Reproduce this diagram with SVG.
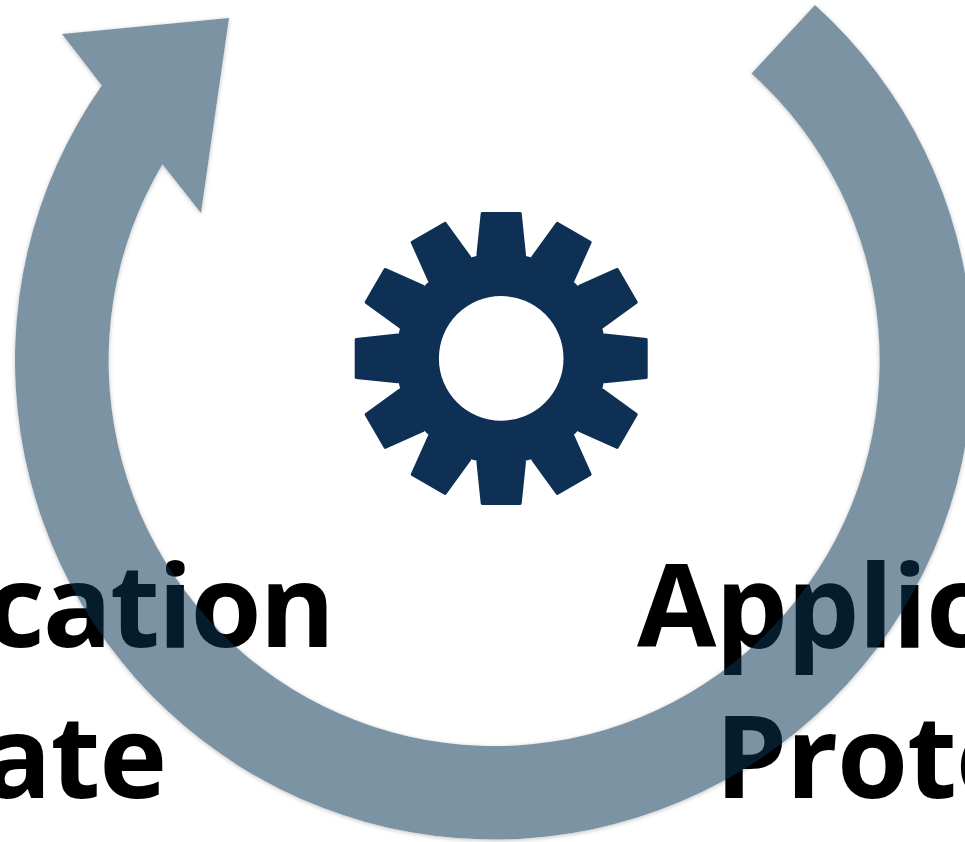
<svg xmlns="http://www.w3.org/2000/svg" width="965" height="842" viewBox="0 0 965 842">
<style>
.label{font-family:"Open Sans","Noto Sans","Liberation Sans",sans-serif;font-weight:700;font-size:115px;letter-spacing:-1.2px;fill:#000}
.gear{fill:#0e3054}
.tooth{fill:#0e3054;stroke:#0e3054;stroke-width:3;stroke-linejoin:round}
</style>
<defs>
<filter id="soft" x="-5%" y="-5%" width="110%" height="110%" color-interpolation-filters="sRGB">
<feComponentTransfer in="SourceAlpha" result="solid"><feFuncA type="linear" slope="3"/></feComponentTransfer>
<feGaussianBlur in="solid" stdDeviation="2" result="b"/>
<feOffset in="b" dy="1" result="o"/>
<feFlood flood-color="#000" flood-opacity="0.22"/>
<feComposite in2="o" operator="in"/>
<feComposite in2="solid" operator="out" result="shadow"/>
<feMerge><feMergeNode in="shadow"/><feMergeNode in="SourceGraphic"/></feMerge>
</filter>
<polygon id="t" points="-19,-145 19,-145 23.3,-103.5 -23.3,-103.5"/>
</defs>
<rect width="965" height="842" fill="#fff"/>
<g id="labels">
<text class="label" x="333" y="647" text-anchor="end" style="letter-spacing:-2.2px">cation</text>
<text class="label" x="166" y="798" text-anchor="end">ate</text>
<text class="label" x="637" y="647">Applic</text>
<text class="label" x="715" y="798">Prote</text>
</g>
<g id="gear" transform="translate(501.2 358.4)">
<circle class="gear" r="105.5"/>
<use href="#t" class="tooth"/>
<use href="#t" class="tooth" transform="rotate(30)"/>
<use href="#t" class="tooth" transform="rotate(60)"/>
<use href="#t" class="tooth" transform="rotate(90)"/>
<use href="#t" class="tooth" transform="rotate(120)"/>
<use href="#t" class="tooth" transform="rotate(150)"/>
<use href="#t" class="tooth" transform="rotate(180)"/>
<use href="#t" class="tooth" transform="rotate(210)"/>
<use href="#t" class="tooth" transform="rotate(240)"/>
<use href="#t" class="tooth" transform="rotate(270)"/>
<use href="#t" class="tooth" transform="rotate(300)"/>
<use href="#t" class="tooth" transform="rotate(330)"/>
<circle r="62.3" fill="#fff"/>
</g>
<g id="connectors">
<path d="M815,5 A479,479 0 1 1 101.8,85.5 L62,34 L229,18 L201,213 L162.4,164.2 A385.5,385.5 0 1 0 751.5,73.6 Z" fill="#0a3454" fill-opacity="0.535" filter="url(#soft)"/>
</g>
</svg>
